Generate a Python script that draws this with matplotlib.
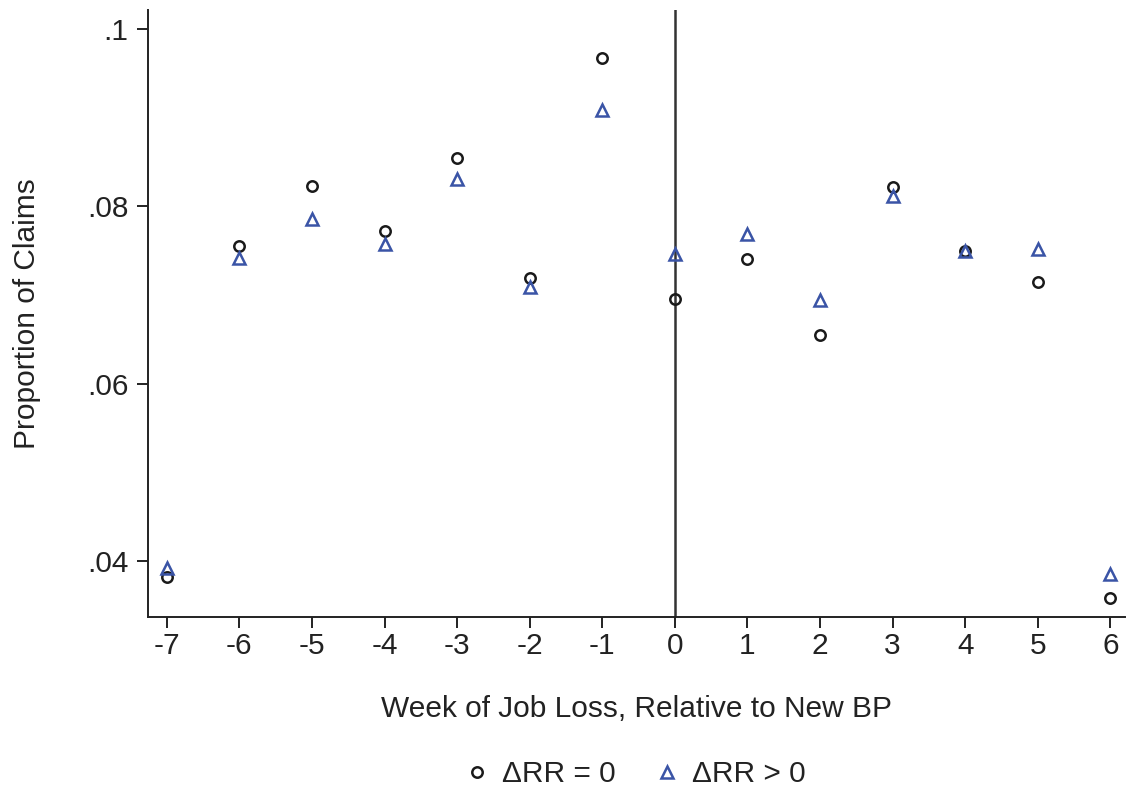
import matplotlib
matplotlib.use("Agg")
import matplotlib.pyplot as plt
from matplotlib.lines import Line2D

plt.rcParams['font.family'] = ['Liberation Sans', 'DejaVu Sans']

weeks = [-7, -6, -5, -4, -3, -2, -1, 0, 1, 2, 3, 4, 5, 6]
rr_zero = [0.0383, 0.0755, 0.0823, 0.0772, 0.0854, 0.0719, 0.0967,
           0.0695, 0.0741, 0.0655, 0.0822, 0.0750, 0.0715, 0.0359]
rr_pos = [0.0393, 0.0742, 0.0786, 0.0758, 0.0831, 0.0709, 0.0908,
          0.0746, 0.0769, 0.0694, 0.0811, 0.0750, 0.0752, 0.0386]
y_ticks = [0.04, 0.06, 0.08, 0.10]
y_tick_labels = ['.04', '.06', '.08', '.1']

blue = '#3a54a6'
dark = '#1a1a1a'
FS = 21.5

fig = plt.figure(figsize=(11.28, 7.91), dpi=100)
ax = fig.add_axes([0.1312, 0.22, 0.866, 0.7674])

ax.axvline(0, color='#333333', lw=1.8, zorder=1)
ax.plot(weeks, rr_zero, linestyle='none', marker='o', markersize=7.5,
        markerfacecolor='none', markeredgecolor=dark, markeredgewidth=1.8, zorder=3)
ax.plot(weeks, rr_pos, linestyle='none', marker='^', markersize=9,
        markerfacecolor='none', markeredgecolor=blue, markeredgewidth=1.8, zorder=3)

ax.set_xlim(-7.26, 6.2)
ax.set_ylim(0.03375, 0.1021)
ax.set_xticks(weeks)
ax.set_xticklabels([str(w) for w in weeks])
ax.set_yticks(y_ticks)
ax.set_yticklabels(y_tick_labels)

for s in ['top', 'right']:
    ax.spines[s].set_visible(False)
for s in ['left', 'bottom']:
    ax.spines[s].set_linewidth(1.4)
    ax.spines[s].set_color('#222222')

ax.tick_params(axis='both', length=8, width=1.4, color='#222222',
               labelsize=FS, labelcolor='#222222')
ax.tick_params(axis='x', pad=3)
ax.tick_params(axis='y', pad=6)

ax.set_xlabel('Week of Job Loss, Relative to New BP', fontsize=FS,
              color='#222222', labelpad=25)
ax.set_ylabel('Proportion of Claims', fontsize=FS, color='#222222', labelpad=33)

handles = [
    Line2D([], [], linestyle='none', marker='o', markersize=7.5,
           markerfacecolor='none', markeredgecolor=dark, markeredgewidth=1.8),
    Line2D([], [], linestyle='none', marker='^', markersize=9,
           markerfacecolor='none', markeredgecolor=blue, markeredgewidth=1.8),
]
fig.legend(handles, ['\u0394RR = 0', '\u0394RR > 0'], loc='center',
           bbox_to_anchor=(0.562, 0.021), ncol=2, frameon=False, fontsize=FS,
           handletextpad=0.35, columnspacing=1.2, handlelength=1.0,
           labelcolor='#222222')

fig.savefig('out.png', dpi=100)
